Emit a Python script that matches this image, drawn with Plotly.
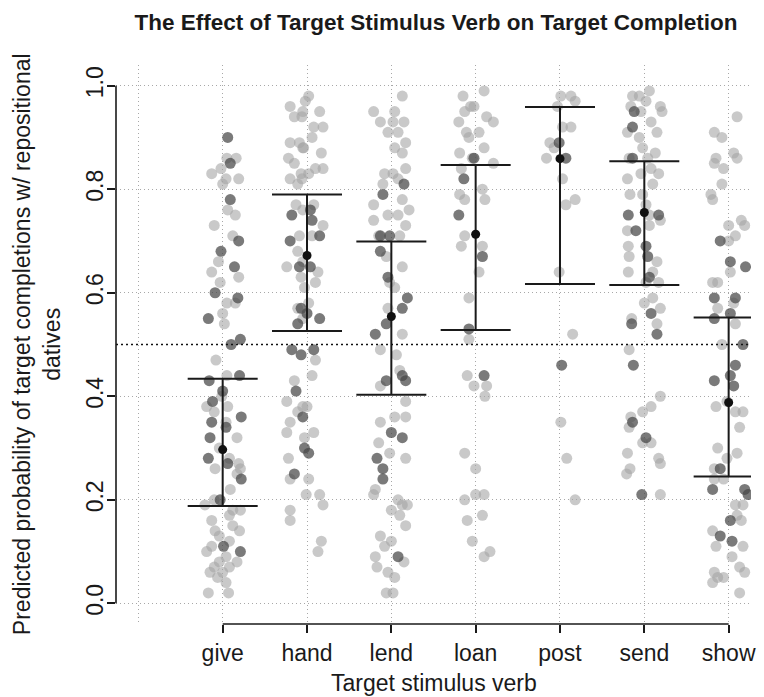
import plotly.graph_objects as go

verbs = ["give", "hand", "lend", "loan", "post", "send", "show"]

# Model estimates (mean, lower, upper) per verb
est_mean = [0.297, 0.672, 0.554, 0.713, 0.859, 0.755, 0.388]
est_lower = [0.188, 0.526, 0.403, 0.528, 0.617, 0.615, 0.245]
est_upper = [0.434, 0.790, 0.699, 0.847, 0.959, 0.854, 0.552]
chance_level = 0.5

# Individual predicted probabilities: (value, jitter offset) pairs
give_light = [(0.86,0.05),(0.86,0.16),(0.83,-0.13),(0.84,-0.02),(0.82,0.04),(0.82,0.19),(0.81,0.00),
              (0.76,0.06),(0.75,0.15),(0.73,-0.10),(0.71,0.12),(0.66,-0.05),(0.64,-0.13),(0.63,0.19),
              (0.62,-0.03),(0.58,0.05),(0.58,0.15),(0.56,0.00),(0.54,0.02),(0.47,-0.08),(0.44,0.05),
              (0.40,-0.01),(0.38,-0.19),(0.38,0.06),(0.37,-0.10),(0.35,0.04),(0.32,0.17),(0.30,-0.04),
              (0.28,0.08),(0.27,0.19),(0.26,-0.09),(0.25,0.17),(0.26,0.21),(0.22,0.09),(0.20,-0.10),
              (0.19,-0.21),(0.18,0.12),(0.18,0.21),(0.17,0.08),(0.16,-0.13),(0.15,0.12),(0.14,0.20),
              (0.14,-0.09),(0.13,-0.04),(0.11,-0.13),(0.12,0.08),(0.10,-0.19),(0.08,-0.04),(0.09,0.04),
              (0.08,0.17),(0.07,-0.10),(0.07,0.08),(0.06,-0.15),(0.06,0.00),(0.04,0.04),(0.02,-0.17),
              (0.02,0.07),(0.05,-0.06)]
give_dark = [(0.90,0.06),(0.85,0.09),(0.78,0.09),(0.70,0.19),(0.68,-0.02),(0.65,0.14),(0.60,-0.09),
             (0.55,-0.17),(0.59,0.18),(0.51,0.21),(0.50,0.10),(0.44,0.20),(0.43,-0.16),(0.41,0.00),
             (0.39,-0.12),(0.36,0.22),(0.35,-0.13),(0.32,-0.15),(0.34,0.04),(0.28,-0.17),(0.27,0.06),
             (0.24,0.22),(0.20,-0.03),(0.11,0.01),(0.10,0.21)]

hand_light = [(0.96,-0.20),(0.94,-0.15),(0.95,-0.05),(0.89,-0.20),(0.89,-0.09),(0.88,-0.05),(0.86,-0.22),
              (0.85,-0.15),(0.82,-0.20),(0.83,-0.07),(0.81,-0.11),(0.77,-0.13),(0.76,-0.05),(0.71,-0.09),
              (0.68,-0.11),(0.66,-0.05),(0.65,-0.24),(0.63,-0.07),(0.61,-0.03),(0.57,-0.11),(0.55,-0.05),
              (0.43,-0.15),(0.39,-0.24),(0.38,-0.05),(0.37,-0.11),(0.35,-0.20),(0.33,-0.24),(0.32,-0.03),
              (0.28,-0.22),(0.24,-0.20),(0.18,-0.20),(0.16,-0.20),(0.21,-0.01),
              (0.98,0.02),(0.97,-0.02),(0.95,0.15),(0.94,-0.06),(0.92,0.08),(0.92,0.19),(0.90,0.06),
              (0.88,-0.04),(0.87,0.17),(0.84,0.10),(0.83,0.02),(0.84,0.19),(0.82,-0.06),(0.77,0.08),
              (0.73,0.19),(0.71,0.06),(0.64,0.13),(0.62,0.10),(0.58,0.02),(0.47,0.10),(0.44,0.06),
              (0.38,0.00),(0.33,0.08),(0.24,0.02),(0.21,0.15),(0.19,0.19),(0.12,0.17),(0.10,0.13)]
hand_dark = [(0.75,-0.18),(0.70,-0.20),(0.65,-0.09),(0.57,-0.07),(0.54,-0.11),(0.49,-0.18),(0.48,-0.07),
             (0.41,-0.13),(0.36,-0.05),(0.30,-0.03),(0.25,-0.15),
             (0.76,0.04),(0.74,0.06),(0.71,0.15),(0.65,0.04),(0.56,0.00),(0.55,0.15),(0.49,0.08),
             (0.29,0.02)]

lend_light = [(0.95,-0.21),(0.98,0.13),(0.95,0.04),(0.93,-0.13),(0.93,0.02),(0.93,0.15),(0.91,0.08),
              (0.91,-0.04),(0.89,0.17),(0.88,0.04),(0.87,0.13),(0.84,0.17),(0.83,-0.08),(0.83,0.02),
              (0.82,0.08),(0.81,-0.10),(0.78,0.13),(0.77,-0.21),(0.76,0.21),(0.75,-0.04),(0.74,-0.21),
              (0.75,0.08),(0.73,0.17),(0.71,-0.15),(0.71,0.10),(0.67,-0.06),(0.65,0.13),(0.62,-0.02),
              (0.61,0.04),(0.57,-0.04),(0.52,0.13),(0.49,-0.13),(0.48,0.06),(0.45,0.10),(0.42,-0.13),
              (0.39,0.17),(0.35,-0.13),(0.36,0.04),(0.36,0.17),(0.31,-0.15),(0.29,-0.02),(0.28,0.17),
              (0.22,-0.19),(0.20,0.08),(0.19,0.19),(0.18,0.00),(0.17,0.10),(0.15,0.17),(0.13,-0.13),
              (0.12,0.00),(0.09,-0.19),(0.07,-0.17),(0.06,-0.04),(0.05,0.04),(0.02,-0.06),(0.02,0.02),
              (0.08,0.15),(0.11,-0.08),(0.19,0.13),(0.21,-0.21)]
lend_dark = [(0.81,0.15),(0.79,-0.10),(0.71,-0.13),(0.71,-0.02),(0.68,-0.13),(0.63,-0.04),(0.59,0.19),
             (0.57,0.13),(0.52,-0.19),(0.54,-0.06),(0.43,-0.06),(0.44,0.13),(0.43,0.17),(0.33,0.00),
             (0.32,0.13),(0.28,-0.17),(0.26,-0.10),(0.24,-0.10),(0.09,0.08)]

loan_light = [(0.98,-0.15),(0.99,0.10),(0.96,-0.06),(0.95,-0.13),(0.96,-0.02),(0.94,0.13),(0.93,0.21),
              (0.93,-0.20),(0.91,-0.11),(0.91,0.04),(0.90,-0.08),(0.88,0.10),(0.85,0.21),(0.87,-0.19),
              (0.86,-0.04),(0.84,-0.17),(0.80,0.08),(0.79,-0.19),(0.78,-0.13),(0.78,0.11),(0.71,-0.13),
              (0.69,-0.17),(0.69,0.08),(0.64,0.04),(0.59,-0.08),(0.51,-0.08),(0.44,-0.10),(0.42,-0.02),
              (0.42,0.13),(0.40,0.11),(0.29,-0.13),(0.26,0.00),(0.20,-0.13),(0.21,0.00),(0.21,0.10),
              (0.16,-0.10),(0.17,0.08),(0.12,-0.04),(0.09,0.10),(0.10,0.17)]
loan_dark = [(0.86,-0.02),(0.82,-0.14),(0.75,-0.20),(0.67,0.08),(0.53,-0.08),(0.44,0.10)]

post_light = [(0.98,0.01),(0.98,0.13),(0.97,0.18),(0.96,-0.03),(0.92,0.03),(0.92,0.13),(0.89,-0.12),
              (0.88,-0.07),(0.86,-0.16),(0.82,0.03),(0.78,0.18),(0.77,0.07),(0.64,-0.01),(0.52,0.15),
              (0.35,0.01),(0.28,0.08),(0.20,0.18)]
post_dark = [(0.89,-0.01),(0.86,0.07),(0.46,0.02)]

send_light = [(0.98,-0.14),(0.96,-0.16),(0.91,-0.20),(0.86,-0.18),(0.82,-0.20),(0.79,-0.17),(0.72,-0.20),
              (0.69,-0.19),(0.67,-0.18),(0.64,-0.19),(0.55,-0.15),(0.49,-0.18),(0.36,-0.16),(0.34,-0.18),
              (0.29,-0.20),(0.26,-0.17),(0.25,-0.21),
              (0.98,-0.06),(0.99,0.06),(0.97,0.02),(0.96,0.19),(0.95,0.21),(0.95,-0.04),(0.93,0.08),
              (0.91,0.15),(0.90,-0.06),(0.88,-0.02),(0.87,0.13),(0.86,0.04),(0.84,0.08),(0.83,0.17),
              (0.83,-0.04),(0.81,0.10),(0.79,-0.02),(0.77,0.02),(0.75,0.06),(0.74,0.19),(0.73,0.06),
              (0.66,0.15),(0.64,0.10),(0.62,0.02),(0.62,0.17),(0.58,0.00),(0.57,0.19),(0.59,0.10),
              (0.54,0.15),(0.40,0.19),(0.38,0.08),(0.37,-0.02),(0.31,-0.02),(0.31,0.08),(0.28,0.17),
              (0.27,0.19),(0.21,0.19)]
send_dark = [(0.95,-0.12),(0.92,-0.14),(0.86,-0.14),(0.75,-0.19),(0.72,-0.10),(0.54,-0.15),(0.46,-0.13),
             (0.35,-0.14),(0.75,0.17),(0.69,0.02),(0.67,0.04),(0.63,0.06),(0.56,0.08),(0.52,0.15),
             (0.32,0.02),(0.21,-0.03)]

show_light = [(0.94,0.10),(0.91,-0.17),(0.90,-0.08),(0.86,-0.15),(0.85,-0.17),(0.87,0.06),(0.86,0.10),
              (0.84,-0.06),(0.81,-0.08),(0.79,-0.21),(0.78,-0.19),(0.74,0.15),(0.73,0.00),(0.73,0.19),
              (0.71,0.08),(0.70,0.00),(0.64,0.02),(0.62,-0.19),(0.62,-0.13),(0.57,-0.13),(0.58,0.06),
              (0.54,0.08),(0.50,-0.08),(0.38,-0.15),(0.39,-0.02),(0.37,0.08),(0.37,0.17),(0.34,0.13),
              (0.30,-0.13),(0.28,-0.02),(0.29,0.10),(0.26,-0.17),(0.24,-0.06),(0.24,-0.17),(0.19,0.08),
              (0.19,0.17),(0.17,0.10),(0.16,0.15),(0.14,-0.19),(0.11,-0.15),(0.09,0.04),(0.11,0.17),
              (0.06,-0.17),(0.05,-0.13),(0.04,-0.19),(0.05,-0.06),(0.07,0.13),(0.06,0.19),(0.02,0.13)]
show_dark = [(0.70,-0.10),(0.66,0.02),(0.65,0.20),(0.59,-0.17),(0.59,0.08),(0.55,-0.17),(0.56,0.02),
             (0.50,0.17),(0.46,0.08),(0.44,0.02),(0.43,-0.17),(0.42,0.06),(0.26,-0.10),(0.22,-0.19),
             (0.22,0.19),(0.21,0.23),(0.16,0.02),(0.13,-0.10),(0.12,0.04)]

y_ticks = [0.0, 0.2, 0.4, 0.6, 0.8, 1.0]
y_tick_labels = ["0.0", "0.2", "0.4", "0.6", "0.8", "1.0"]

light_sets = [give_light, hand_light, lend_light, loan_light, post_light, send_light, show_light]
dark_sets = [give_dark, hand_dark, lend_dark, loan_dark, post_dark, send_dark, show_dark]
positions = list(range(1, len(verbs) + 1))


def flatten(sets):
    xs, ys = [], []
    for pos, pts in zip(positions, sets):
        for v, dx in pts:
            xs.append(pos + dx)
            ys.append(v)
    return xs, ys


lx, ly = flatten(light_sets)
dx_, dy_ = flatten(dark_sets)

FONT = "Liberation Sans, Arial, Helvetica, sans-serif"
TXT = "#1a1a1a"

fig = go.Figure()
fig.add_trace(go.Scatter(x=lx, y=ly, mode="markers", hoverinfo="skip",
                         marker=dict(size=11, color="rgba(165,165,165,0.6)", line=dict(width=0))))
fig.add_trace(go.Scatter(x=dx_, y=dy_, mode="markers", hoverinfo="skip",
                         marker=dict(size=11, color="rgba(70,70,70,0.72)", line=dict(width=0))))
fig.add_trace(go.Scatter(
    x=positions, y=est_mean, mode="markers", hoverinfo="skip",
    marker=dict(size=9, color="#111111"),
    error_y=dict(type="data", symmetric=False,
                 array=[u - m for u, m in zip(est_upper, est_mean)],
                 arrayminus=[m - l for m, l in zip(est_mean, est_lower)],
                 width=35, thickness=2, color="#1a1a1a"),
))

fig.add_hline(y=chance_level, line=dict(color="#111111", width=1.3, dash="2px,3px"))

# R-style axis lines spanning only the tick range
fig.add_shape(type="line", xref="paper", yref="y", x0=0, x1=0, y0=y_ticks[0], y1=y_ticks[-1],
              line=dict(color="#1a1a1a", width=1.6))
fig.add_shape(type="line", xref="x", yref="paper", x0=positions[0], x1=positions[-1], y0=0, y1=0,
              line=dict(color="#1a1a1a", width=1.6))

grid = dict(showgrid=True, gridcolor="#a8a8a8", gridwidth=1, griddash="1px,3px")

fig.update_layout(
    width=764, height=697,
    margin=dict(l=116, r=8, t=65, b=73),
    paper_bgcolor="white", plot_bgcolor="white",
    showlegend=False,
    font=dict(family=FONT, color=TXT, size=23),
    title=dict(text="<b>The Effect of Target Stimulus Verb on Target Completion</b>",
               x=436 / 764, xref="container", xanchor="center", y=1 - 22 / 697, yref="container",
               yanchor="middle", font=dict(size=22.5, color=TXT)),
    xaxis=dict(range=[-0.265, 7.265], tickvals=positions, ticktext=verbs,
               ticks="outside", ticklen=8, tickwidth=1.5, tickcolor="#1a1a1a",
               showline=False, zeroline=False, tickfont=dict(size=23, color=TXT),
               minor=dict(tickvals=[0], ticklen=0, **grid),
               **grid),
    yaxis=dict(range=[-0.04, 1.04], tickvals=y_ticks, ticktext=y_tick_labels, tickangle=-90,
               ticks="outside", ticklen=8, tickwidth=1.5, tickcolor="#1a1a1a", ticklabelstandoff=-5,
               showline=False, zeroline=False, tickfont=dict(size=23, color=TXT),
               **grid),
    annotations=[
        dict(text="Predicted probability of target completions w/ repositional<br>datives",
             xref="paper", yref="paper", x=(36 - 116) / 640, y=0.5,
             xanchor="center", yanchor="middle", textangle=-90, showarrow=False,
             font=dict(size=23, color=TXT, family=FONT)),
        dict(text="Target stimulus verb", xref="paper", yref="paper", x=0.5,
             y=-(683 - 624) / 559, xanchor="center", yanchor="middle", showarrow=False,
             font=dict(size=23, color=TXT, family=FONT)),
    ],
)

fig.write_html("out.html", config={"displayModeBar": False},
               post_script="document.body.style.margin='0';")
